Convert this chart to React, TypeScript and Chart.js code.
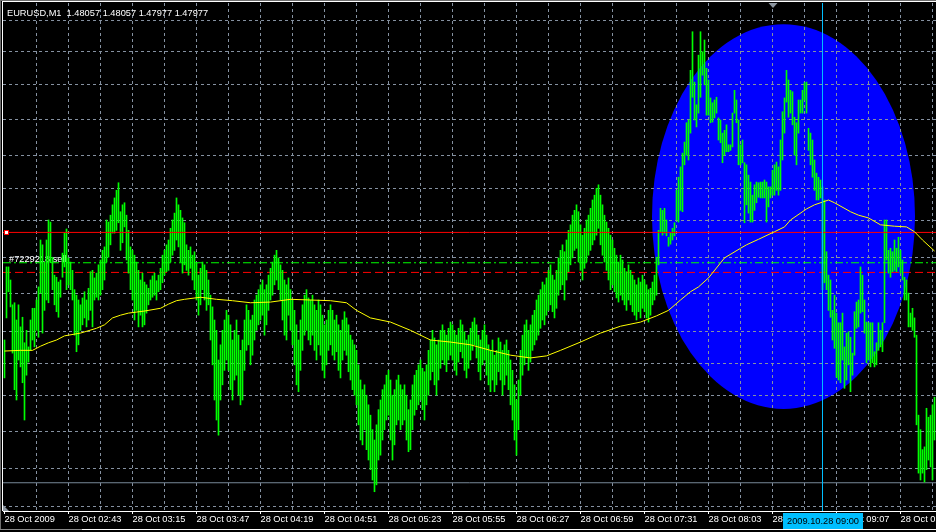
import { useEffect, useRef } from 'react';
import { Chart, registerables } from 'chart.js';

Chart.register(...registerables);

// ---------- data ----------
const titleText = 'EURUSD,M1  1.48057 1.48057 1.47977 1.47977';
const timeLabels = [
  '28 Oct 2009', '28 Oct 02:43', '28 Oct 03:15', '28 Oct 03:47', '28 Oct 04:19',
  '28 Oct 04:51', '28 Oct 05:23', '28 Oct 05:55', '28 Oct 06:27', '28 Oct 06:59',
  '28 Oct 07:31', '28 Oct 08:03', '28 Oct 08:35', '28 Oct 09:07', '28 Oct 09:39',
];
const labelBars = [0, 32, 64, 96, 128, 160, 192, 224, 256, 288, 320, 352, 384, 416, 448];
const gridBars = [16, 32, 48, 64, 80, 96, 112, 128, 144, 160, 176, 192, 208, 224, 240, 256, 272, 288, 304, 320, 336, 352, 368, 384, 400, 416, 432, 448, 464];
const gridPrices = [1.47946, 1.48001, 1.48054, 1.48106, 1.48153, 1.482, 1.48254, 1.48307, 1.4836, 1.48406, 1.48455, 1.48507, 1.48557, 1.48605, 1.4865];

const barHighs = [
  1.48187,1.48293,1.48293,1.48274,1.48238,1.48241,1.48216,1.48238,1.48206,1.48220,1.48183,1.48201,1.48177,1.48216,1.48233,1.48233,
  1.48245,1.48264,1.48332,1.48325,1.48300,1.48332,1.48361,1.48358,1.48307,1.48281,1.48278,1.48271,1.48274,1.48313,1.48342,1.48348,
  1.48306,1.48300,1.48288,1.48260,1.48252,1.48245,1.48238,1.48248,1.48257,1.48245,1.48262,1.48286,1.48288,1.48277,1.48284,1.48296,
  1.48303,1.48317,1.48322,1.48361,1.48358,1.48368,1.48383,1.48393,1.48404,1.48415,1.48373,1.48383,1.48386,1.48368,1.48346,1.48322,
  1.48317,1.48310,1.48300,1.48288,1.48274,1.48284,1.48271,1.48267,1.48262,1.48274,1.48280,1.48284,1.48273,1.48281,1.48291,1.48310,
  1.48317,1.48325,1.48332,1.48349,1.48361,1.48371,1.48393,1.48383,1.48375,1.48364,1.48357,1.48325,1.48317,1.48322,1.48310,1.48315,
  1.48299,1.48281,1.48291,1.48300,1.48296,1.48288,1.48274,1.48252,1.48235,1.48216,1.48201,1.48158,1.48180,1.48201,1.48216,1.48230,
  1.48223,1.48209,1.48187,1.48201,1.48216,1.48194,1.48172,1.48187,1.48216,1.48238,1.48230,1.48216,1.48223,1.48245,1.48252,1.48260,
  1.48267,1.48274,1.48260,1.48267,1.48281,1.48291,1.48300,1.48310,1.48317,1.48306,1.48296,1.48288,1.48274,1.48267,1.48277,1.48260,
  1.48245,1.48230,1.48209,1.48187,1.48216,1.48238,1.48252,1.48260,1.48248,1.48245,1.48252,1.48238,1.48230,1.48245,1.48238,1.48223,
  1.48209,1.48216,1.48230,1.48238,1.48230,1.48216,1.48223,1.48209,1.48201,1.48216,1.48228,1.48219,1.48209,1.48194,1.48187,1.48180,
  1.48172,1.48151,1.48129,1.48115,1.48122,1.48107,1.48093,1.48078,1.48057,1.48042,1.48064,1.48086,1.48100,1.48115,1.48122,1.48136,
  1.48143,1.48129,1.48107,1.48115,1.48129,1.48136,1.48122,1.48115,1.48122,1.48107,1.48086,1.48100,1.48122,1.48136,1.48143,1.48151,
  1.48158,1.48146,1.48141,1.48151,1.48172,1.48187,1.48201,1.48190,1.48180,1.48187,1.48201,1.48209,1.48201,1.48194,1.48204,1.48213,
  1.48209,1.48201,1.48194,1.48204,1.48216,1.48209,1.48199,1.48187,1.48194,1.48204,1.48213,1.48219,1.48209,1.48194,1.48187,1.48201,
  1.48209,1.48194,1.48180,1.48172,1.48187,1.48165,1.48172,1.48190,1.48184,1.48172,1.48180,1.48187,1.48172,1.48158,1.48143,1.48122,
  1.48100,1.48129,1.48172,1.48194,1.48209,1.48216,1.48201,1.48209,1.48223,1.48230,1.48245,1.48252,1.48260,1.48271,1.48267,1.48277,
  1.48288,1.48296,1.48281,1.48274,1.48288,1.48306,1.48317,1.48325,1.48315,1.48332,1.48346,1.48354,1.48368,1.48375,1.48383,1.48373,
  1.48354,1.48339,1.48349,1.48361,1.48368,1.48378,1.48390,1.48397,1.48407,1.48412,1.48397,1.48383,1.48368,1.48358,1.48349,1.48339,
  1.48332,1.48320,1.48310,1.48300,1.48310,1.48303,1.48291,1.48286,1.48296,1.48288,1.48281,1.48274,1.48267,1.48277,1.48271,1.48281,
  1.48274,1.48267,1.48260,1.48262,1.48271,1.48281,1.48307,1.48346,1.48378,1.48375,1.48378,1.48361,1.48336,1.48342,1.48349,1.48357,
  1.48404,1.48423,1.48438,1.48458,1.48474,1.48502,1.48506,1.48578,1.48634,1.48561,1.48528,1.48600,1.48634,1.48605,1.48622,1.48581,
  1.48564,1.48538,1.48531,1.48535,1.48539,1.48509,1.48506,1.48487,1.48491,1.48499,1.48470,1.48470,1.48516,1.48549,1.48535,1.48506,
  1.48470,1.48477,1.48444,1.48441,1.48426,1.48416,1.48397,1.48412,1.48416,1.48415,1.48416,1.48416,1.48419,1.48416,1.48409,1.48409,
  1.48433,1.48441,1.48445,1.48438,1.48477,1.48518,1.48538,1.48578,1.48564,1.48549,1.48547,1.48510,1.48502,1.48535,1.48535,1.48549,
  1.48560,1.48561,1.48494,1.48487,1.48477,1.48448,1.48429,1.48423,1.48419,1.48409,1.48390,1.48315,1.48281,1.48274,1.48230,1.48252,
  1.48226,1.48212,1.48212,1.48226,1.48177,1.48197,1.48199,1.48191,1.48168,1.48228,1.48242,1.48245,1.48293,1.48281,1.48245,1.48213,
  1.48212,1.48212,1.48212,1.48170,1.48183,1.48212,1.48201,1.48212,1.48361,1.48361,1.48317,1.48320,1.48315,1.48332,1.48320,1.48336,
  1.48317,1.48303,1.48278,1.48274,1.48255,1.48226,1.48233,1.48219,1.48194,1.48078,1.48057,1.48028,1.48032,1.48088,1.48075,1.48078,1.48093,1.48104,
];
const barLows = [
  1.48132,1.48219,1.48257,1.48235,1.48168,1.48115,1.48100,1.48158,1.48148,1.48125,1.48071,1.48136,1.48155,1.48172,1.48187,1.48177,
  1.48201,1.48191,1.48255,1.48197,1.48230,1.48245,1.48241,1.48299,1.48260,1.48238,1.48228,1.48220,1.48249,1.48278,1.48293,1.48260,
  1.48267,1.48260,1.48245,1.48194,1.48170,1.48180,1.48201,1.48209,1.48219,1.48206,1.48216,1.48230,1.48206,1.48245,1.48249,1.48245,
  1.48252,1.48260,1.48274,1.48300,1.48307,1.48325,1.48342,1.48342,1.48346,1.48357,1.48317,1.48328,1.48351,1.48303,1.48284,1.48260,
  1.48245,1.48216,1.48230,1.48206,1.48223,1.48206,1.48209,1.48226,1.48238,1.48245,1.48249,1.48252,1.48245,1.48257,1.48260,1.48270,
  1.48281,1.48286,1.48288,1.48300,1.48310,1.48317,1.48332,1.48322,1.48300,1.48284,1.48296,1.48288,1.48281,1.48291,1.48274,1.48260,
  1.48245,1.48223,1.48238,1.48260,1.48245,1.48230,1.48238,1.48187,1.48151,1.48100,1.48071,1.48049,1.48100,1.48122,1.48143,1.48158,
  1.48143,1.48115,1.48100,1.48129,1.48136,1.48107,1.48093,1.48100,1.48143,1.48172,1.48180,1.48151,1.48165,1.48187,1.48201,1.48209,
  1.48216,1.48223,1.48194,1.48209,1.48230,1.48245,1.48252,1.48267,1.48274,1.48260,1.48245,1.48216,1.48194,1.48187,1.48223,1.48201,
  1.48180,1.48151,1.48122,1.48112,1.48143,1.48172,1.48194,1.48201,1.48187,1.48180,1.48194,1.48172,1.48158,1.48180,1.48165,1.48143,
  1.48132,1.48151,1.48172,1.48180,1.48165,1.48158,1.48170,1.48143,1.48132,1.48158,1.48172,1.48165,1.48141,1.48129,1.48115,1.48107,
  1.48093,1.48064,1.48042,1.48035,1.48057,1.48028,1.48013,1.47999,1.47984,1.47967,1.47977,1.48013,1.48020,1.48042,1.48057,1.48071,
  1.48078,1.48042,1.48013,1.48035,1.48064,1.48071,1.48057,1.48064,1.48071,1.48042,1.48025,1.48028,1.48057,1.48078,1.48086,1.48093,
  1.48100,1.48086,1.48071,1.48093,1.48107,1.48129,1.48141,1.48122,1.48107,1.48129,1.48146,1.48158,1.48151,1.48141,1.48158,1.48165,
  1.48158,1.48143,1.48136,1.48155,1.48170,1.48161,1.48143,1.48132,1.48146,1.48158,1.48172,1.48180,1.48161,1.48141,1.48129,1.48151,
  1.48158,1.48136,1.48122,1.48112,1.48129,1.48112,1.48122,1.48141,1.48129,1.48107,1.48122,1.48136,1.48115,1.48093,1.48071,1.48042,
  1.48020,1.48057,1.48107,1.48136,1.48151,1.48161,1.48143,1.48155,1.48172,1.48180,1.48187,1.48194,1.48204,1.48216,1.48209,1.48223,
  1.48230,1.48238,1.48228,1.48219,1.48233,1.48252,1.48260,1.48267,1.48245,1.48274,1.48286,1.48296,1.48306,1.48317,1.48320,1.48300,
  1.48288,1.48274,1.48291,1.48300,1.48310,1.48317,1.48325,1.48332,1.48339,1.48349,1.48325,1.48310,1.48300,1.48288,1.48274,1.48260,
  1.48267,1.48257,1.48248,1.48242,1.48252,1.48245,1.48238,1.48230,1.48245,1.48238,1.48228,1.48223,1.48216,1.48228,1.48219,1.48233,
  1.48228,1.48219,1.48213,1.48223,1.48238,1.48245,1.48252,1.48296,1.48344,1.48339,1.48342,1.48338,1.48323,1.48326,1.48332,1.48338,
  1.48361,1.48358,1.48375,1.48373,1.48441,1.48455,1.48448,1.48487,1.48539,1.48506,1.48496,1.48516,1.48539,1.48571,1.48557,1.48513,
  1.48513,1.48502,1.48503,1.48509,1.48516,1.48477,1.48473,1.48444,1.48455,1.48460,1.48460,1.48462,1.48467,1.48516,1.48502,1.48441,
  1.48441,1.48444,1.48357,1.48383,1.48371,1.48358,1.48358,1.48375,1.48386,1.48394,1.48393,1.48393,1.48393,1.48358,1.48380,1.48393,
  1.48397,1.48397,1.48404,1.48397,1.48404,1.48448,1.48487,1.48532,1.48510,1.48516,1.48499,1.48455,1.48441,1.48487,1.48516,1.48516,
  1.48535,1.48516,1.48462,1.48441,1.48423,1.48404,1.48390,1.48390,1.48393,1.48260,1.48270,1.48260,1.48230,1.48220,1.48187,1.48175,
  1.48133,1.48129,1.48125,1.48158,1.48117,1.48129,1.48151,1.48112,1.48136,1.48165,1.48204,1.48206,1.48226,1.48228,1.48197,1.48154,
  1.48158,1.48148,1.48154,1.48148,1.48151,1.48172,1.48177,1.48170,1.48212,1.48303,1.48284,1.48278,1.48286,1.48288,1.48286,1.48293,
  1.48284,1.48274,1.48245,1.48245,1.48206,1.48206,1.48201,1.48191,1.48064,1.47994,1.47984,1.47994,1.47981,1.47999,1.48013,1.48003,1.47984,1.48042,
];

const maBars = [0,8,14,18,22,26,30,38,46,50,54,58,62,70,78,82,86,90,98,106,114,123,133,143,153,163,171,176,183,193,203,213,223,233,243,253,263,271,278,288,298,308,318,326,332,338,343,347,352,360,368,371,377,385,390,393,401,405,412,415,423,427,432,438,445,451,455,459,465];
const maValues = [1.48171,1.48172,1.48172,1.48178,1.48183,1.48187,1.48193,1.48197,1.48204,1.48209,1.48219,1.48223,1.48226,1.48229,1.48233,1.48239,1.48244,1.48246,1.48249,1.48246,1.48244,1.48241,1.48242,1.48246,1.48245,1.48244,1.48241,1.48230,1.48219,1.48213,1.48201,1.48187,1.48184,1.48180,1.48172,1.48165,1.48161,1.48164,1.48172,1.48184,1.48197,1.48207,1.48213,1.48222,1.48230,1.48245,1.48257,1.48264,1.48277,1.48306,1.48320,1.48325,1.48333,1.48344,1.48351,1.48361,1.48377,1.48383,1.48390,1.48386,1.48373,1.48368,1.48364,1.48354,1.48352,1.48351,1.48344,1.48332,1.48316];

const horizontalLinePrice = 1.48343;
const orderOpenPrice = 1.48299;
const takeProfitPrice = 1.48285;
const bidPrice = 1.4798;
const orderLabel = '#7229218 sell';
const vlineBar = 409;
const vlineLabel = '2009.10.28 09:00';
const shiftMarkerBar = 384.25;
const ellipseCenterBar = 389.5;
const ellipseCenterPrice = 1.48366;
const ellipseHalfBars = 65.75;
const ellipseHalfPrice = 0.00279;

// ---------- view ----------
const X_MIN = -0.75;
const X_MAX = 465.75;
const Y_MIN = 1.4793905;
const Y_MAX = 1.4867565;
const GRID = '#8591a1';
const FONT = '9.25px "Liberation Sans", Arial, sans-serif';

const mtPlugin = {
  id: 'mt4look',
  beforeDraw(chart: any) {
    const { ctx, width, height, chartArea, scales } = chart;
    ctx.save();
    ctx.fillStyle = '#000';
    ctx.fillRect(0, 0, width, height);
    const x = scales.x;
    const y = scales.y;
    const cx = x.getPixelForValue(ellipseCenterBar);
    const cy = y.getPixelForValue(ellipseCenterPrice);
    const rx = x.getPixelForValue(ellipseCenterBar + ellipseHalfBars) - cx;
    const ry = y.getPixelForValue(ellipseCenterPrice - ellipseHalfPrice) - cy;
    ctx.beginPath();
    ctx.rect(chartArea.left, chartArea.top, chartArea.right - chartArea.left, chartArea.bottom - chartArea.top);
    ctx.clip();
    ctx.beginPath();
    ctx.ellipse(cx, cy, rx, ry, 0, 0, Math.PI * 2);
    ctx.fillStyle = '#0000ff';
    ctx.fill();
    ctx.restore();
  },
  beforeDatasetsDraw(chart: any) {
    const { ctx, chartArea, scales } = chart;
    const yy = scales.y.getPixelForValue(orderOpenPrice);
    ctx.save();
    ctx.font = FONT;
    ctx.fillStyle = '#ffffff';
    ctx.textBaseline = 'alphabetic';
    ctx.fillText(orderLabel, chartArea.left + 6, Math.round(yy) - 1);
    ctx.restore();
  },
  afterDatasetsDraw(chart: any) {
    const { ctx, chartArea, scales } = chart;
    const yy = Math.floor(scales.y.getPixelForValue(horizontalLinePrice));
    ctx.save();
    ctx.fillStyle = '#ff0000';
    ctx.fillRect(chartArea.left + 1, yy - 2, 5, 5);
    ctx.fillStyle = '#ffffff';
    ctx.fillRect(chartArea.left + 2, yy - 1, 3, 3);
    ctx.restore();
  },
  afterDraw(chart: any) {
    const { ctx, width, chartArea, scales } = chart;
    ctx.save();
    // frame
    ctx.fillStyle = '#6e6e6e';
    ctx.fillRect(0, 0, width, 1);
    ctx.fillRect(0, 0, 1, 530);
    ctx.fillStyle = '#ffffff';
    ctx.fillRect(2, 1, width - 2, 1);
    ctx.fillRect(2, 1, 1, chartArea.bottom - 1);
    ctx.fillStyle = '#8a8a8a';
    ctx.fillRect(0, 529, 82, 1);
    ctx.fillStyle = '#ffffff';
    ctx.fillRect(82, 529, width - 82, 1);
    // title
    ctx.font = FONT;
    ctx.fillStyle = '#ffffff';
    ctx.textBaseline = 'alphabetic';
    ctx.fillText(titleText, 7, 16);
    // shift marker
    const sx = Math.round(scales.x.getPixelForValue(shiftMarkerBar));
    ctx.fillStyle = '#8c959f';
    ctx.beginPath();
    ctx.moveTo(sx - 4.5, chartArea.top);
    ctx.lineTo(sx + 4.5, chartArea.top);
    ctx.lineTo(sx, chartArea.top + 5);
    ctx.closePath();
    ctx.fill();
    ctx.beginPath();
    ctx.moveTo(chartArea.left, chartArea.bottom - 6);
    ctx.lineTo(chartArea.left, chartArea.bottom);
    ctx.lineTo(chartArea.left + 6, chartArea.bottom);
    ctx.closePath();
    ctx.fill();
    // vertical line time label
    const vx = scales.x.getPixelForValue(vlineBar);
    ctx.font = FONT;
    const tw = ctx.measureText(vlineLabel).width;
    const bw = Math.round(tw + 8);
    const bx = Math.round(vx - bw / 2);
    ctx.fillStyle = '#00bfff';
    ctx.fillRect(bx, chartArea.bottom + 2, bw, 16);
    ctx.fillStyle = '#000000';
    ctx.textAlign = 'center';
    ctx.fillText(vlineLabel, bx + bw / 2, 524);
    ctx.restore();
  },
};

export default function App() {
  const ref = useRef<HTMLCanvasElement>(null);
  useEffect(() => {
    const canvas = ref.current as HTMLCanvasElement;
    const bars = barHighs.map((h, i) => ({ x: i, y: [barLows[i], h] }));
    const ma = maBars.map((b, i) => ({ x: b, y: maValues[i] }));
    const hline = (p: number) => [{ x: X_MIN, y: p }, { x: X_MAX, y: p }];
    const lineBase = { pointRadius: 0, pointHoverRadius: 0, borderWidth: 1, tension: 0, fill: false };
    const chart = new Chart(canvas, {
      type: 'bar',
      data: {
        datasets: [
          { ...lineBase, type: 'line', label: 'vline', data: [{ x: vlineBar, y: Y_MIN }, { x: vlineBar, y: Y_MAX }], borderColor: '#00bfff', order: -1 } as any,
          { ...lineBase, type: 'line', label: 'MA', data: ma, borderColor: '#ffff00', order: 0 } as any,
          { ...lineBase, type: 'line', label: 'HLine', data: hline(horizontalLinePrice), borderColor: '#ff0000', order: 1 } as any,
          { type: 'bar', label: 'EURUSD,M1', data: bars, backgroundColor: '#00ff00', borderWidth: 0, barThickness: 1, order: 2 } as any,
          { ...lineBase, type: 'line', label: 'Bid', data: hline(bidPrice), borderColor: '#778899', order: 3 } as any,
          { ...lineBase, type: 'line', label: 'TP', data: hline(takeProfitPrice), borderColor: '#ff0000', borderDash: [8, 4], order: 4 } as any,
          { ...lineBase, type: 'line', label: 'Open', data: hline(orderOpenPrice), borderColor: '#00ff00', borderDash: [8, 3, 2, 3], order: 5 } as any,
        ],
      },
      options: {
        animation: false,
        responsive: false,
        devicePixelRatio: 1,
        events: [],
        layout: { padding: { left: 3, top: 3, right: 0, bottom: 0 } },
        plugins: { legend: { display: false }, tooltip: { enabled: false }, title: { display: false } },
        scales: {
          x: {
            type: 'linear', position: 'bottom', min: X_MIN, max: X_MAX, offset: false,
            afterBuildTicks: (s: any) => { s.ticks = labelBars.map((v) => ({ value: v })); },
            afterFit: (s: any) => { s.height = 21; s.paddingLeft = 0; s.paddingRight = 0; },
            ticks: {
              autoSkip: false, maxRotation: 0, minRotation: 0, align: 'start', padding: 0,
              color: '#ffffff', font: { family: '"Liberation Sans", Arial, sans-serif', size: 9.25 },
              callback: (_v: any, i: number) => timeLabels[i],
            },
            grid: { drawOnChartArea: false, drawTicks: true, tickLength: 3, tickColor: '#ffffff', color: '#ffffff', offset: false },
            border: { display: true, color: '#ffffff', width: 1 },
          },
          xg: {
            type: 'linear', position: 'top', min: X_MIN, max: X_MAX, offset: false,
            afterBuildTicks: (s: any) => { s.ticks = gridBars.map((v) => ({ value: v })); },
            afterFit: (s: any) => { s.height = 0; s.paddingLeft = 0; s.paddingRight = 0; },
            ticks: { display: false },
            grid: { color: GRID, drawTicks: false, offset: false },
            border: { display: false, dash: [3, 3] },
          },
          y: {
            type: 'linear', position: 'right', min: Y_MIN, max: Y_MAX,
            afterBuildTicks: (s: any) => { s.ticks = gridPrices.map((v) => ({ value: v })); },
            afterFit: (s: any) => { s.width = 0; s.paddingTop = 0; s.paddingBottom = 0; },
            ticks: { display: false },
            grid: { color: GRID, drawTicks: false },
            border: { display: false, dash: [3, 3] },
          },
        },
      } as any,
      plugins: [mtPlugin],
    });
    return () => chart.destroy();
  }, []);
  return (
    <div style={{ position: 'absolute', left: 0, top: 0, width: 936, height: 532, background: '#000' }}>
      <canvas ref={ref} width={936} height={532} style={{ display: 'block', width: 936, height: 532 }} />
    </div>
  );
}
